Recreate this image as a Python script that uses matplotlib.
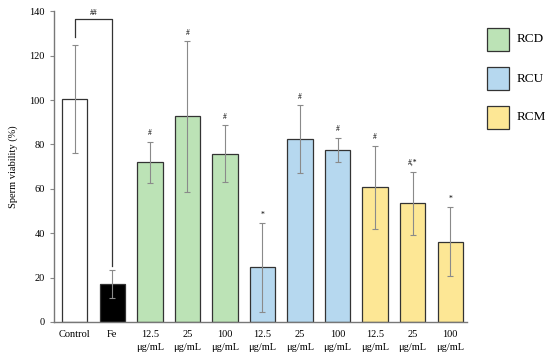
import numpy as np
import matplotlib.pyplot as plt
from matplotlib.patches import Rectangle

plt.rcParams['font.family'] = ['Liberation Serif', 'DejaVu Serif']

labels = ["Control", "Fe", "12.5\nμg/mL", "25\nμg/mL", "100\nμg/mL",
          "12.5\nμg/mL", "25\nμg/mL", "100\nμg/mL",
          "12.5\nμg/mL", "25\nμg/mL", "100\nμg/mL"]
viability = [100.4, 17.1, 72.0, 92.6, 75.9, 24.6, 82.5, 77.6, 60.7, 53.4, 36.2]
errors = [24.2, 6.2, 9.3, 34.0, 12.7, 20.0, 15.2, 5.5, 18.7, 14.3, 15.5]
marks = ["", "", "#", "#", "#", "*", "#", "#", "#", "#,*", "*"]
groups = ["ctrl", "fe", "RCD", "RCD", "RCD", "RCU", "RCU", "RCU", "RCM", "RCM", "RCM"]
group_names = ["RCD", "RCU", "RCM"]
# bracket Control vs Fe: top level and the two leg ends
bracket = [128.5, 136.3, 25.0]

colori = {"ctrl": "white", "fe": "black",
          "RCD": "#bce3b6", "RCU": "#b6d8ef", "RCM": "#fde795"}

W, H = 550, 358
fig = plt.figure(figsize=(5.5, 3.58), dpi=100)
ax = fig.add_axes([0.098, 0.1006, 0.751, 0.868])

x = np.arange(len(labels))
ax.bar(x, viability, width=0.67, color=[colori[g] for g in groups],
       edgecolor="#333333", linewidth=0.9, zorder=2)
ax.errorbar(x, viability, yerr=errors, fmt="none", ecolor="#8a8a8a",
            elinewidth=0.8, capsize=2, capthick=0.8, zorder=3)

for xi, v, e, m in zip(x, viability, errors, marks):
    if m:
        ax.text(xi, v + e + 2, m, ha="center", va="bottom", fontsize=5.5)

ax.plot([0, 0, 1, 1], [bracket[0], bracket[1], bracket[1], bracket[2]],
        color="#333333", linewidth=0.9, zorder=3)
ax.text(0.5, bracket[1] + 1.2, "##", ha="center", va="bottom", fontsize=5.5)

ax.set_xlim(-0.56, 10.45)
ax.set_ylim(0, 140)
ax.set_yticks(range(0, 141, 20))
ax.set_xticks(x)
ax.set_xticklabels(labels, fontsize=7.5, linespacing=1.5)
ax.tick_params(axis="y", labelsize=7.5, length=3, color="#888888", width=0.8)
ax.tick_params(axis="x", length=0, pad=6)
ax.set_ylabel("Sperm viability (%)", fontsize=7.5, labelpad=8)
for s in ["top", "right"]:
    ax.spines[s].set_visible(False)
for s in ["left", "bottom"]:
    ax.spines[s].set_color("#777777")
    ax.spines[s].set_linewidth(1.0)

# legend drawn by hand (pixel layout from the reference)
for i, g in enumerate(group_names):
    y_top = 28 + i * 39
    fig.patches.append(Rectangle((487 / W, 1 - (y_top + 23) / H), 22 / W, 23 / H,
                                 transform=fig.transFigure, facecolor=colori[g],
                                 edgecolor="#333333", linewidth=0.9))
    fig.text(517 / W, 1 - (y_top + 11.5) / H, g, fontsize=9.5, va="center", ha="left")

plt.savefig("out.png", dpi=100)
